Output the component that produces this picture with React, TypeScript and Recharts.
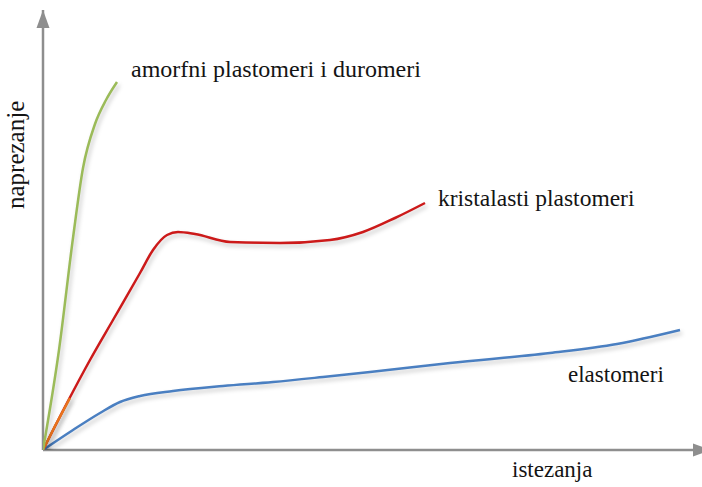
import React from "react";
import { LineChart, Line, XAxis, YAxis, ReferenceLine, ReferenceDot } from "recharts";

// strain (istezanja) vs stress (naprezanje), arbitrary units
const amorphous = [
  { x: 0, y: 0 }, { x: 16, y: 100 }, { x: 30, y: 212 }, { x: 40, y: 282 }, { x: 52, y: 326 },
  { x: 63, y: 350 }, { x: 74, y: 368 },
];
const crystalline = [
  { x: 0, y: 0 }, { x: 24, y: 47 }, { x: 47, y: 90 }, { x: 70, y: 130 }, { x: 97, y: 177 },
  { x: 110, y: 200 }, { x: 124, y: 215 }, { x: 135, y: 218 }, { x: 152, y: 216 }, { x: 187, y: 208 },
  { x: 237, y: 207 }, { x: 287, y: 210 }, { x: 320, y: 218 }, { x: 352, y: 232 }, { x: 382, y: 247 },
];
const crystallineStart = [{ x: 0, y: 0 }, { x: 12, y: 24 }, { x: 27, y: 52 }];
const elastomers = [
  { x: 0, y: 0 }, { x: 30, y: 20 }, { x: 57, y: 37 }, { x: 77, y: 48 }, { x: 97, y: 54 },
  { x: 130, y: 59 }, { x: 180, y: 64 }, { x: 230, y: 68 }, { x: 280, y: 73 }, { x: 327, y: 78 },
  { x: 407, y: 87 }, { x: 507, y: 97 }, { x: 574, y: 106 }, { x: 637, y: 120 },
];
const xDomain = [0, 657];
const yDomain = [0, 440];
const labels = {
  amorphous: "amorfni plastomeri i duromeri",
  crystalline: "kristalasti plastomeri",
  elastomers: "elastomeri",
  xTitle: "istezanja",
  yTitle: "naprezanje",
};

const AXIS = "#8e8e8e";

const ArrowRight = (props: any) => {
  const { cx, cy } = props;
  return <polygon points={`${cx - 7},${cy - 6.5} ${cx + 11},${cy} ${cx - 7},${cy + 6.5}`} fill={AXIS} />;
};
const ArrowUp = (props: any) => {
  const { cx, cy } = props;
  return <polygon points={`${cx - 6.5},${cy + 18} ${cx},${cy} ${cx + 6.5},${cy + 18}`} fill={AXIS} />;
};

export default function App() {
  return (
    <div style={{ position: "absolute", left: 0, top: 0, width: 702, height: 487, background: "#fff" }}>
      <style>{`.recharts-line-curve { filter: drop-shadow(2px 3px 2px rgba(0,0,0,0.22)); } svg text.lbl { font-family: "Times New Roman", "Liberation Serif", "DejaVu Serif", "Noto Serif", serif !important; fill: #141414; }`}</style>
      <LineChart width={702} height={487} margin={{ top: 10, right: 2, bottom: 37, left: 43 }}>
        <XAxis type="number" dataKey="x" domain={xDomain} hide allowDataOverflow />
        <YAxis type="number" dataKey="y" domain={yDomain} hide allowDataOverflow />
        <ReferenceLine y={0} stroke={AXIS} strokeWidth={2.5} />
        <ReferenceLine x={0} stroke={AXIS} strokeWidth={2.5} />
        <ReferenceDot x={657} y={0} r={0} shape={ArrowRight} ifOverflow="visible" />
        <ReferenceDot x={0} y={440} r={0} shape={ArrowUp} ifOverflow="visible" />
        <Line data={elastomers} dataKey="y" type="monotone" stroke="#4a7fc1" strokeWidth={2.5} dot={false} isAnimationActive={false} />
        <Line data={crystalline} dataKey="y" type="monotone" stroke="#cc1a1a" strokeWidth={2.5} dot={false} isAnimationActive={false} />
        <Line data={crystallineStart} dataKey="y" type="linear" stroke="#e8741c" strokeWidth={2.5} dot={false} isAnimationActive={false} />
        <Line data={amorphous} dataKey="y" type="monotone" stroke="#9bbb59" strokeWidth={2.5} dot={false} isAnimationActive={false} />
        <text className="lbl" x={131} y={77} fontSize={24}>{labels.amorphous}</text>
        <text className="lbl" x={438} y={206} fontSize={23.5}>{labels.crystalline}</text>
        <text className="lbl" x={568} y={382} fontSize={23}>{labels.elastomers}</text>
        <text className="lbl" x={512} y={477} fontSize={23}>{labels.xTitle}</text>
        <text className="lbl" x={0} y={0} transform="translate(24,209) rotate(-90)" fontSize={25}>{labels.yTitle}</text>
      </LineChart>
    </div>
  );
}
